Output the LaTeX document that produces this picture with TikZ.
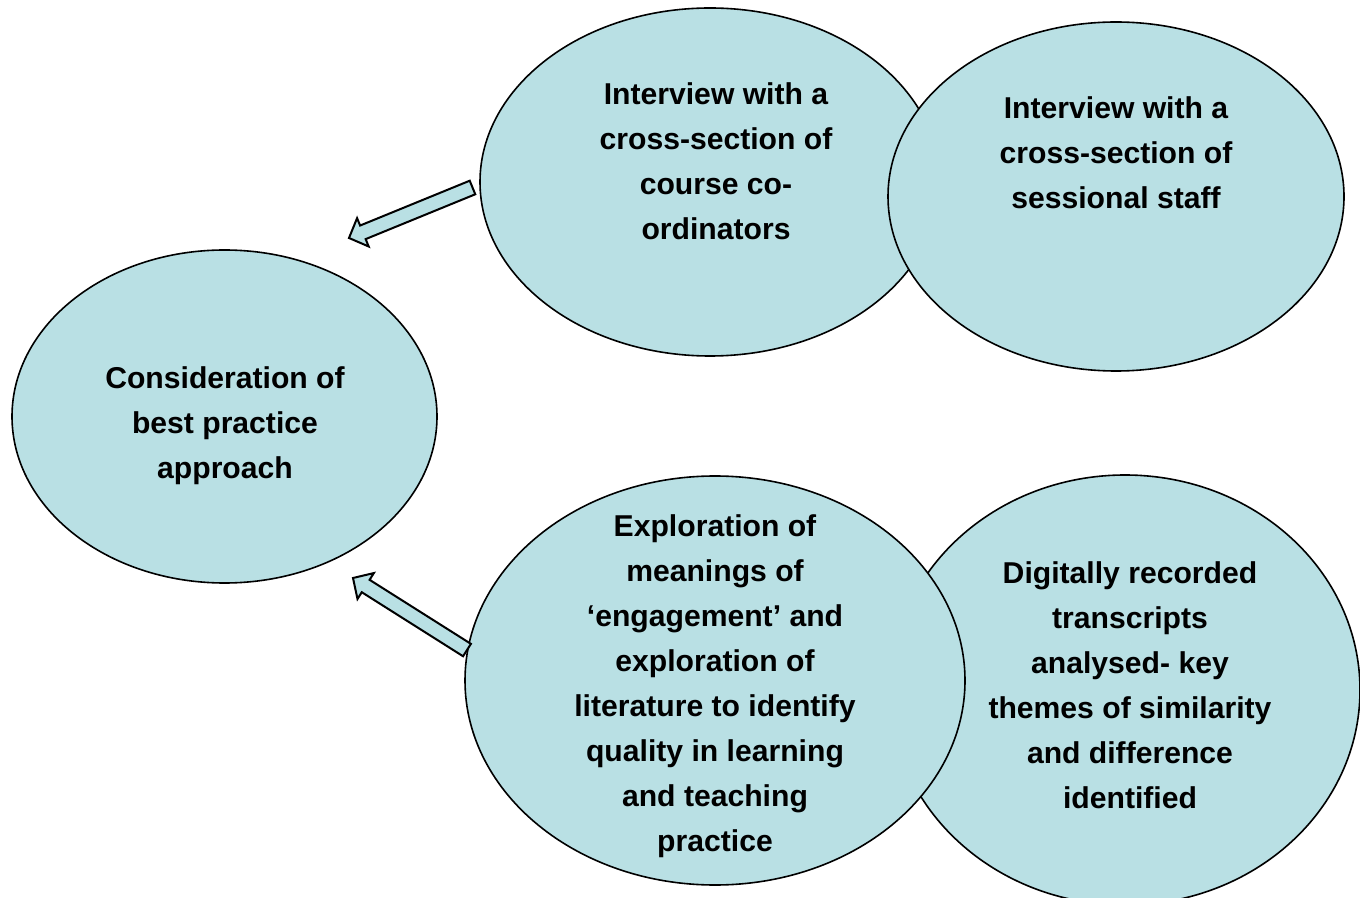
\documentclass[tikz,border=0pt]{standalone}
\usepackage{fontspec}
\setmainfont{Liberation Sans}
\usetikzlibrary{shapes.geometric,calc}
\definecolor{bubblefill}{RGB}{185,224,228}

\begin{document}
\begin{tikzpicture}
[x=0.75pt, y=-0.75pt,
 bubble/.style={ellipse, inner sep=0pt, fill=bubblefill, draw=black, line width=1.2pt},
 bubbletext/.style={align=center, inner sep=0pt, font=\bfseries\fontsize{22.6}{33.75}\selectfont},
 arrowbody/.style={fill=bubblefill, draw=black, line width=1.5pt, line join=miter}]
\useasboundingbox (0,0) rectangle (1360,898);
% the five bubbles
\node (best) [bubble, minimum width=318.75pt, minimum height=249.75pt] at (224.5, 416.5) {};
\node (coord) [bubble, minimum width=345pt, minimum height=261pt] at (710, 182) {};
\node (sess) [bubble, minimum width=342pt, minimum height=261.75pt] at (1116, 196.5) {};
\node (trans) [bubble, minimum width=352.5pt, minimum height=322.5pt] at (1125, 690) {};
\node (lit) [bubble, minimum width=375pt, minimum height=306.75pt] at (715, 680.5) {};
% texts
\node (besttext) [bubbletext] at (225, 426) {Consideration of\\best practice\\approach};
\node (coordtext) [bubbletext] at (716, 161.5) {Interview with a\\cross-section of\\course co-\\ordinators};
\node (sesstext) [bubbletext] at (1116, 153) {Interview with a\\cross-section of\\sessional staff};
\node (littext) [bubbletext] at (715, 686.5) {Exploration of\\meanings of\\‘engagement’ and\\exploration of\\literature to identify\\quality in learning\\and teaching\\practice};
\node (transtext) [bubbletext] at (1130, 685) {Digitally recorded\\transcripts\\analysed- key\\themes of similarity\\and difference\\identified};
% block arrows
\coordinate (t1) at (472.5, 187.5);
\coordinate (h1) at (349, 238);
\coordinate (t2) at (lit.173);
\coordinate (h2) at (353, 578);
\foreach \t/\h in {t1/h1, t2/h2} {
  \coordinate (b) at ($(\h)!11.25pt!(\t)$);
  \draw [arrowbody] ($(\t)!5.5pt!90:(\h)$) -- ($(b)!5.5pt!90:(\h)$) -- ($(b)!11.5pt!90:(\h)$)
    -- (\h) -- ($(b)!11.5pt!-90:(\h)$) -- ($(b)!5.5pt!-90:(\h)$) -- ($(\t)!5.5pt!-90:(\h)$) -- cycle;
}
\end{tikzpicture}
\end{document}
